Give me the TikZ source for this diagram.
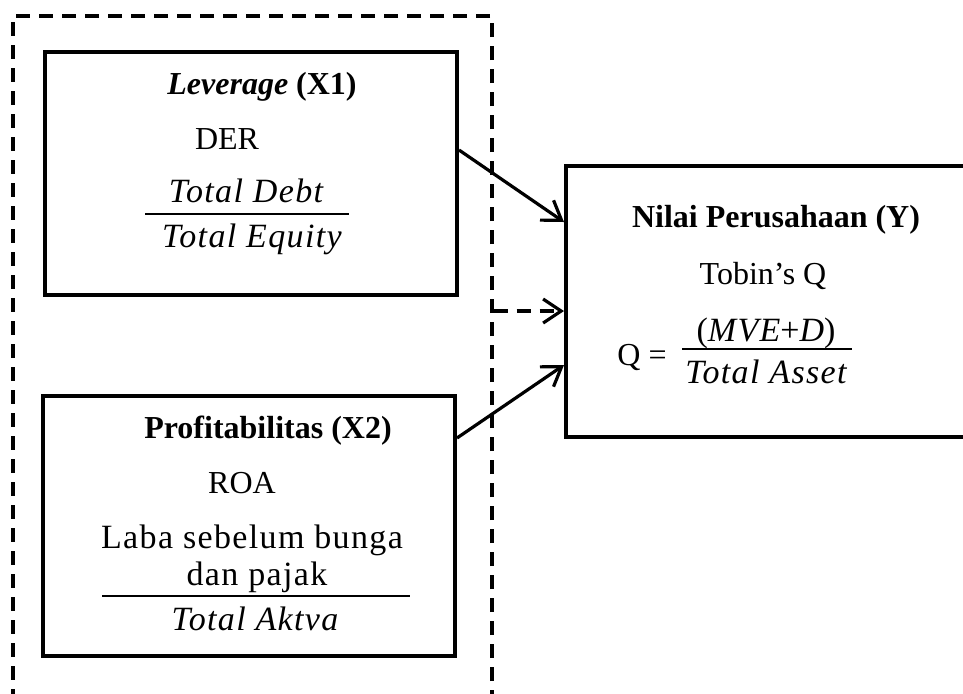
\documentclass[tikz,border=0pt]{standalone}
\usepackage{fontspec}
\setmainfont{Liberation Serif}
\newfontfamily\eqfont[LetterSpace=4]{Liberation Serif}
\usetikzlibrary{arrows.meta,positioning}

\begin{document}
\begin{tikzpicture}[x=0.5pt, y=-0.5pt,
    every node/.style={font=\fontsize{16}{19}\selectfont, inner sep=0pt},
    varbox/.style={draw, line width=2pt, minimum width=206pt},
    eq/.style={font=\fontsize{17}{20}\selectfont\eqfont\itshape, anchor=base},
    txt/.style={anchor=base},
    link/.style={-{Straight Barb[length=9pt, width=12pt]}, line width=1.6pt},
    grpline/.style={line width=1.6pt, dash pattern=on 7pt off 4.5pt}]
    \useasboundingbox (0,0) rectangle (963,693);

    % Independent variables group (dashed)
    \node[draw, grpline, minimum width=239.5pt, minimum height=392pt]
        (grp) at (252.5,408) {};

    % Leverage box
    \node[varbox, minimum height=121.5pt] (lev) at (251,173.5) {};
    \node[txt] (levt) at (262,94) {\textbf{\textit{Leverage}} \textbf{(X1)}};
    \node[txt] (der) at (227,149) {DER};
    \node[eq] (debt) at (246,202) {Total Debt};
    \node[eq] (equity) at (252,247) {Total Equity};
    \draw[line width=1.3pt] (145,214) -- (349,214);

    % Profitability box
    \node[varbox, minimum height=130pt] (prof) at (249,526) {};
    \node[txt] (proft) at (268,438) {\textbf{Profitabilitas (X2)}};
    \node[txt] (roa) at (242,493) {ROA};
    \node[eq] (laba) at (252,548) {\upshape Laba sebelum bunga};
    \node[eq] (pajak) at (257,585) {\upshape dan pajak};
    \node[eq] (aktva) at (255,630) {Total Aktva};
    \draw[line width=1.3pt] (102,596) -- (410,596);

    % Firm value box
    \node[varbox, minimum width=217pt, minimum height=135.5pt] (nilai) at (783,301.5) {};
    \node[txt] (nilait) at (776,227) {\textbf{Nilai Perusahaan (Y)}};
    \node[txt] (tobin) at (763,284) {Tobin’s Q};
    \node[txt] (q) at (642,365) {Q =};
    \node[eq] (mve) at (766,341) {\upshape(\itshape MVE\upshape+\itshape D\upshape)};
    \node[eq] (asset) at (766,383) {Total Asset};
    \draw[line width=1.3pt] (682,349) -- (852,349);

    % Arrows
    \coordinate (tap) at ([yshift=-4.75pt]nilai.west);
    \draw[link] ([yshift=11.75pt]lev.east) -- ([yshift=39.75pt]nilai.west);
    \draw[link] ([yshift=44pt]prof.east) -- ([yshift=-31.75pt]nilai.west);
    \draw[link, grpline] (tap -| grp.east) -- (tap);
\end{tikzpicture}
\end{document}
